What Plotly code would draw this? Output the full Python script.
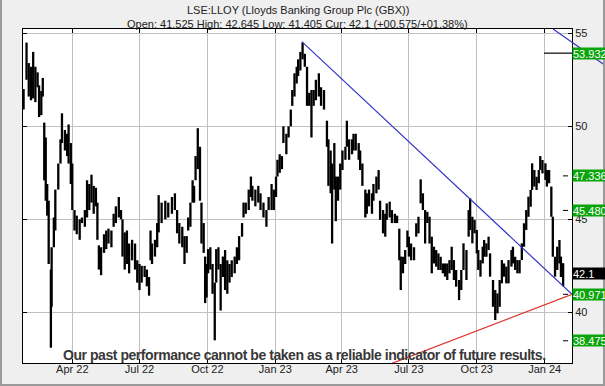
import plotly.graph_objects as go

dates = ["2022-01-25","2022-01-29","2022-02-01","2022-02-04","2022-02-07","2022-02-10","2022-02-13","2022-02-15","2022-02-18","2022-02-20",
"2022-02-22","2022-02-24","2022-02-26","2022-02-28","2022-03-03","2022-03-04","2022-03-07","2022-03-09","2022-03-13","2022-03-16",
"2022-03-18","2022-03-22","2022-03-25","2022-03-27","2022-03-30","2022-04-01","2022-04-04","2022-04-07","2022-04-11","2022-04-14",
"2022-04-18","2022-04-21","2022-04-24","2022-04-27","2022-04-30","2022-05-03","2022-05-05","2022-05-07","2022-05-10","2022-05-14",
"2022-05-17","2022-05-20","2022-05-24","2022-05-27","2022-05-30","2022-06-03","2022-06-06","2022-06-08","2022-06-11","2022-06-14",
"2022-06-17","2022-06-21","2022-06-25","2022-06-28","2022-07-01","2022-07-04","2022-07-08","2022-07-11","2022-07-14","2022-07-16",
"2022-07-18","2022-07-22","2022-07-25","2022-07-27","2022-07-31","2022-08-05","2022-08-09","2022-08-14","2022-08-18","2022-08-21",
"2022-08-24","2022-08-28","2022-08-31","2022-09-03","2022-09-05","2022-09-08","2022-09-11","2022-09-13","2022-09-15","2022-09-18",
"2022-09-21","2022-09-23","2022-09-26","2022-09-28","2022-09-30","2022-10-02","2022-10-05","2022-10-08","2022-10-11","2022-10-13",
"2022-10-16","2022-10-19","2022-10-22","2022-10-25","2022-10-28","2022-10-31","2022-11-03","2022-11-07","2022-11-10","2022-11-13",
"2022-11-17","2022-11-19","2022-11-22","2022-11-26","2022-11-29","2022-12-01","2022-12-05","2022-12-09","2022-12-12","2022-12-16",
"2022-12-20","2022-12-23","2022-12-27","2022-12-30","2023-01-02","2023-01-04","2023-01-07","2023-01-10","2023-01-12","2023-01-16",
"2023-01-19","2023-01-22","2023-01-24","2023-01-27","2023-01-30","2023-02-01","2023-02-04","2023-02-07","2023-02-10","2023-02-13",
"2023-02-16","2023-02-19","2023-02-22","2023-02-25","2023-03-01","2023-03-04","2023-03-08","2023-03-12","2023-03-14","2023-03-17",
"2023-03-19","2023-03-22","2023-03-24","2023-03-27","2023-03-30","2023-04-02","2023-04-06","2023-04-08","2023-04-11","2023-04-15",
"2023-04-17","2023-04-20","2023-04-24","2023-04-26","2023-04-29","2023-05-03","2023-05-05","2023-05-08","2023-05-12","2023-05-14",
"2023-05-18","2023-05-21","2023-05-23","2023-05-27","2023-05-30","2023-06-01","2023-06-05","2023-06-08","2023-06-12","2023-06-15",
"2023-06-18","2023-06-20","2023-06-23","2023-06-26","2023-06-29","2023-07-01","2023-07-04","2023-07-08","2023-07-11","2023-07-14",
"2023-07-17","2023-07-20","2023-07-23","2023-07-26","2023-07-29","2023-08-01","2023-08-04","2023-08-07","2023-08-10","2023-08-13",
"2023-08-16","2023-08-19","2023-08-22","2023-08-25","2023-08-28","2023-08-31","2023-09-03","2023-09-07","2023-09-10","2023-09-13",
"2023-09-17","2023-09-20","2023-09-22","2023-09-25","2023-09-28","2023-10-01","2023-10-03","2023-10-06","2023-10-09","2023-10-11",
"2023-10-14","2023-10-17","2023-10-19","2023-10-23","2023-10-26","2023-10-29","2023-11-01","2023-11-04","2023-11-07","2023-11-10",
"2023-11-13","2023-11-17","2023-11-19","2023-11-22","2023-11-25","2023-11-28","2023-12-01","2023-12-04","2023-12-07","2023-12-10",
"2023-12-13","2023-12-15","2023-12-18","2023-12-21","2023-12-24","2023-12-26","2023-12-29","2024-01-02","2024-01-04","2024-01-07",
"2024-01-10","2024-01-12","2024-01-15","2024-01-18","2024-01-21","2024-01-23","2024-01-26"]

lows = [50.9,52.5,51.6,51.4,51.5,51.3,52.1,50.5,50.6,51.6,
47.1,46.0,45.2,42.6,38.1,40.3,43.5,44.4,46.6,48.0,
49.1,48.7,48.4,48.0,46.9,45.5,44.4,44.2,43.9,44.8,
44.6,45.1,45.5,45.9,45.3,45.7,43.9,42.3,42.0,43.2,
43.4,43.7,43.5,44.6,44.8,45.1,45.0,43.0,42.3,42.6,
42.1,42.8,42.3,41.6,41.2,41.6,41.9,41.4,40.9,42.8,
42.6,43.0,43.5,44.3,44.8,45.0,45.1,45.3,45.5,44.25,
43.7,43.5,42.6,43.2,44.4,44.6,45.9,45.9,47.1,47.7,
46.0,43.7,43.2,40.5,40.8,42.1,42.3,41.0,38.5,41.6,
42.3,40.1,41.9,41.2,41.0,41.6,41.9,42.1,42.6,42.8,
44.07,45.1,45.3,45.5,46.2,46.0,45.7,45.9,45.5,45.1,
44.6,45.5,45.5,45.5,46.2,47.3,47.5,47.7,49.1,48.5,
49.4,50.0,51.1,51.6,52.3,52.7,53.0,53.6,53.2,51.1,
51.1,49.4,51.1,51.4,51.6,51.1,50.9,48.9,46.8,46.4,
43.7,46.6,44.9,46.0,46.6,47.65,48.2,48.9,48.2,48.5,
48.7,48.7,48.2,47.65,46.8,45.1,45.3,45.7,45.3,46.0,
46.4,46.6,44.97,44.25,44.07,44.97,45.1,44.8,44.8,44.8,
42.8,41.2,42.1,42.6,43.5,43.0,42.8,42.8,44.07,44.25,
45.86,45.5,43.7,44.8,43.7,42.1,42.63,42.46,42.28,42.28,
42.1,41.92,41.74,42.1,42.28,41.74,41.38,40.66,41.2,42.28,
41.74,44.07,44.43,43.71,44.25,43.17,42.28,41.92,42.63,42.99,
42.99,43.35,41.92,40.3,39.59,39.95,40.3,41.56,41.92,41.56,
41.56,42.46,42.63,42.28,42.1,42.1,42.81,43.53,44.43,45.14,
45.68,46.58,46.76,46.58,46.94,47.65,47.47,47.12,46.76,46.94,
45.14,42.99,41.92,42.28,42.63,41.9,41.405]

highs = [52.0,54.5,53.4,53.2,54.0,53.2,52.9,52.2,51.9,52.6,
50.2,49.4,46.9,46.0,42.3,43.5,45.1,46.6,48.0,49.3,
50.7,49.8,49.6,50.1,49.1,48.0,45.5,45.2,45.0,45.1,
45.5,47.1,46.9,47.4,46.8,46.7,45.9,43.6,43.5,44.2,
44.4,44.5,44.4,45.3,45.7,46.2,45.5,45.0,44.3,44.4,
43.7,43.9,43.7,42.8,42.6,42.5,42.5,42.3,41.9,44.4,
43.7,43.9,44.8,46.3,45.9,46.0,45.9,46.2,46.4,45.5,
44.8,44.6,44.1,44.1,45.1,45.9,47.1,46.8,48.4,49.9,
48.9,45.9,44.8,43.0,42.6,43.4,43.5,42.6,41.6,43.4,
43.5,42.6,43.0,43.35,42.8,42.6,42.8,43.0,43.5,44.1,
44.8,45.9,45.9,46.6,47.3,46.8,46.6,46.8,46.4,45.9,
45.5,46.2,46.9,46.6,47.3,48.2,48.5,48.4,50.0,49.6,
50.0,50.9,51.95,52.85,53.2,53.6,54.0,54.5,53.9,53.2,
51.8,51.95,51.95,52.5,52.85,52.1,51.95,50.3,49.3,48.7,
48.0,49.1,47.3,47.3,48.0,48.7,48.9,50.3,49.3,49.3,
49.6,49.6,49.1,48.7,48.0,46.6,46.4,46.6,46.4,46.9,
47.3,47.65,46.0,45.5,45.3,45.86,45.95,45.5,45.3,45.2,
44.5,43.0,42.99,43.35,44.4,44.07,43.7,43.5,44.79,45.14,
47.15,46.4,45.5,45.4,45.14,44.07,43.53,43.35,43.17,42.99,
42.63,42.63,42.63,42.81,43.53,42.81,42.28,41.74,42.28,43.71,
43.35,45.5,46.13,45.14,44.97,44.43,43.35,42.81,43.53,43.89,
43.71,44.07,43.17,41.74,41.2,41.02,41.74,42.81,42.63,42.46,
42.81,43.35,43.53,42.99,42.81,42.81,43.71,44.79,45.5,46.22,
46.58,48.01,47.65,47.29,47.65,48.4,48.19,48.01,47.65,47.65,
46.76,45.14,42.99,43.53,43.89,43.0,42.645]

# ---- trend lines ----
resist_dates = ["2023-02-06", "2024-02-07"]
resist_vals = [54.55, 40.97]
support_dates = ["2023-05-05", "2024-02-07"]
support_vals = [36.74, 40.97]
target_dates = ["2023-12-31", "2024-02-07"]
target_vals = [53.932, 53.932]

# ---- right-hand price labels ----
label_vals = [53.932, 47.336, 45.480, 42.1, 40.971, 38.475]
label_text = ["53.932", "47.336", "45.480", "42.1", "40.971", "38.475"]
label_bg = ["#0aa50a", "#0aa50a", "#0aa50a", "#000000", "#0aa50a", "#0aa50a"]
tick_vals = [47.336, 45.480, 40.971, 38.475]

# ---- axes ----
x_tickvals = ["2022-04-01", "2022-07-01", "2022-10-01", "2023-01-01",
              "2023-04-01", "2023-07-01", "2023-10-01", "2024-01-01"]
x_ticktext = ["Apr 22", "Jul 22", "Oct 22", "Jan 23", "Apr 23", "Jul 23", "Oct 23", "Jan 24"]
y_tickvals = [40, 45, 50, 55]

title_text = "LSE:LLOY (Lloyds Banking Group Plc (GBX))"
sub_text = "Open: 41.525 High: 42.645 Low: 41.405 Cur: 42.1 (+00.575/+01.38%)"
disclaimer = "Our past performance cannot be taken as a reliable indicator of future results."

# high-low bar segments
bx, by = [], []
for d, lo, hi in zip(dates, lows, highs):
    bx += [d, d, None]
    by += [lo, hi, None]

fig = go.Figure()
fig.add_trace(go.Scatter(x=bx, y=by, mode="lines",
                         line=dict(color="black", width=2.3),
                         hoverinfo="skip", showlegend=False))
fig.add_trace(go.Scatter(x=resist_dates, y=resist_vals, mode="lines",
                         line=dict(color="#3434c8", width=1.2), showlegend=False))
fig.add_trace(go.Scatter(x=support_dates, y=support_vals, mode="lines",
                         line=dict(color="#e0302a", width=1.2), showlegend=False))
fig.add_trace(go.Scatter(x=target_dates, y=target_vals, mode="lines",
                         line=dict(color="black", width=1.2), showlegend=False))

W, H = 605, 386
ml, mr, mt, mb = 23, 33, 29, 23
pw, ph = W - ml - mr, H - mt - mb

def px(xp):
    return (xp - ml) / pw

def py(yp):
    return (H - mb - yp) / ph

shapes = []
# short tick marks beside labelled levels
for v in tick_vals:
    shapes.append(dict(type="line", xref="paper", yref="y",
                       x0=px(563), x1=px(568), y0=v, y1=v,
                       line=dict(color="black", width=1)))
# upper-right blue channel line
shapes.append(dict(type="line", xref="paper", yref="paper",
                   x0=px(553), y0=py(29), x1=px(606), y1=py(66),
                   line=dict(color="#3434c8", width=1.2)))
# outer frame
shapes.append(dict(type="path", xref="paper", yref="paper",
                   path=f"M {px(1)} {py(0)} L {px(1)} {py(385)} L {px(604)} {py(385)} L {px(604)} {py(0)}",
                   line=dict(color="#9a9a9a", width=2)))

annotations = []
for v, t, bg in zip(label_vals, label_text, label_bg):
    annotations.append(dict(x=1.0, xref="paper", y=v, yref="y", xanchor="left", yanchor="middle",
                            text=t, showarrow=False, bgcolor=bg, width=46, height=11,
                            align="left", borderpad=0,
                            font=dict(family="Liberation Sans, Arial", size=11, color="white")))
annotations.append(dict(x=0.5, xref="paper", y=py(10), yref="paper", yanchor="middle", text=title_text,
                        showarrow=False, font=dict(family="Liberation Sans, Arial", size=11, color="#222")))
annotations.append(dict(x=0.5, xref="paper", y=py(24), yref="paper", yanchor="middle", text=sub_text,
                        showarrow=False, font=dict(family="Liberation Sans, Arial", size=11, color="#222")))
annotations.append(dict(x=px(304), xref="paper", y=py(355), yref="paper", yanchor="middle",
                        text="<span style='letter-spacing:-0.45px'><b>" + disclaimer + "</b></span>",
                        showarrow=False,
                        font=dict(family="Liberation Sans, Arial", size=14, color="#383838")))

fig.update_layout(
    width=W, height=H,
    margin=dict(l=ml, r=mr, t=mt, b=mb, pad=0, autoexpand=False),
    paper_bgcolor="#efefef", plot_bgcolor="white",
    showlegend=False,
    shapes=shapes, annotations=annotations,
    xaxis=dict(type="date", range=["2022-01-24 05:00", "2024-02-07"],
               tickvals=x_tickvals, ticktext=x_ticktext, automargin=False,
               showgrid=True, gridcolor="#c0c0c0", gridwidth=1,
               showline=True, linecolor="black", linewidth=1, mirror="ticks",
               ticks="inside", ticklen=4, tickcolor="black", ticklabelstandoff=-4,
               tickfont=dict(family="Liberation Sans, Arial", size=11, color="#222"),
               zeroline=False, fixedrange=True),
    yaxis=dict(side="right", range=[37.28, 55.23], tickvals=y_tickvals, automargin=False,
               showgrid=True, gridcolor="#c0c0c0", gridwidth=1,
               showline=True, linecolor="black", linewidth=1, mirror="ticks",
               ticks="inside", ticklen=4, tickcolor="black",
               tickfont=dict(family="Liberation Sans, Arial", size=11, color="#222"),
               zeroline=False, fixedrange=True),
)

fig.write_html("out.html")
